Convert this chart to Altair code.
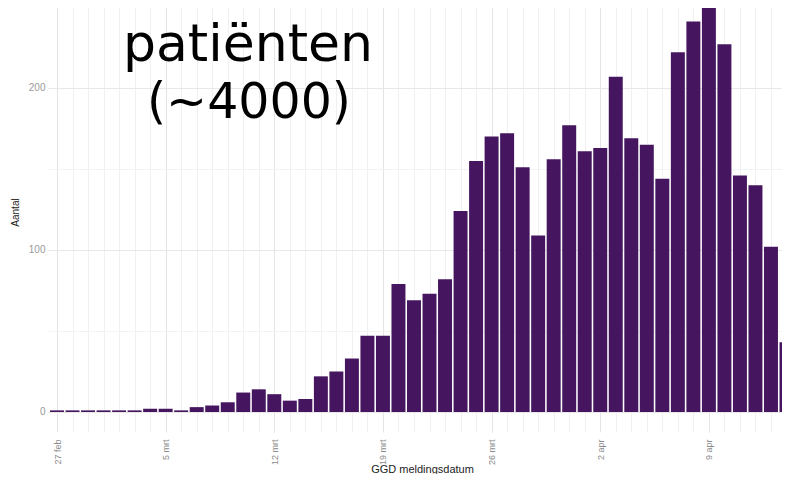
import altair as alt
import pandas as pd

# --- data ---
dates = [d.strftime("%Y-%m-%d") for d in pd.date_range("2020-02-27", periods=48, freq="D")]
aantal = [1, 1, 1, 1, 1, 1, 2, 2, 1,
          3, 4, 6, 12, 14, 11, 7, 8,
          22, 25, 33, 47, 47, 79, 69, 73, 82,
          124, 155, 170, 172, 151, 109, 156, 177, 161, 163, 207, 169, 165, 144,
          222, 241, 256, 227, 146, 140, 102, 43]
tick_labels = ["27 feb", "5 mrt", "12 mrt", "19 mrt", "26 mrt", "2 apr", "9 apr"]
y_values = [0, 50, 100, 150, 200, 250]
overlay_line1 = "patiënten"
overlay_line2 = "(~4000)"

df = pd.DataFrame({"datum": dates, "dag": list(range(len(dates))), "aantal": aantal})

label_array = "[" + ",".join("'" + t + "'" for t in tick_labels) + "]"
x_label_expr = f"datum.value % 7 === 0 ? {label_array}[datum.value / 7] : ''"

bars = alt.Chart(df).transform_calculate(
    x0="datum.dag - 0.45", x1="datum.dag + 0.45"
).mark_bar(color="#45165F", clip=True).encode(
    x=alt.X("x0:Q",
            scale=alt.Scale(domain=[-0.58, 46.71], nice=False, zero=False),
            axis=alt.Axis(values=list(range(len(dates))), labelExpr=x_label_expr,
                          labelAngle=270, labelFontSize=9, labelColor="#8A8A8A",
                          labelFont="Liberation Sans", labelPadding=7,
                          ticks=False, tickSize=0, domain=False,
                          grid=True,
                          gridColor={"condition": {"test": "datum.value % 7 === 0", "value": "#E4E4E4"},
                                     "value": "#F0F0F0"},
                          gridWidth=1,
                          title="GGD meldingsdatum", titleFontSize=11, titleFontWeight="normal",
                          titleFont="Liberation Sans", titleColor="#222222",
                          titleX=374, titleY=40, titleBaseline="alphabetic", titleAlign="center")),
    x2="x1:Q",
    y=alt.Y("aantal:Q",
            scale=alt.Scale(domain=[-12.35, 254.3], nice=False, zero=False),
            axis=alt.Axis(values=y_values,
                          labelExpr="datum.value % 100 === 0 ? datum.label : ''",
                          labelFontSize=10, labelColor="#9A9A9A", labelFont="Liberation Sans",
                          labelPadding=3, ticks=False, tickSize=0, domain=False,
                          grid=True,
                          gridColor={"condition": {"test": "datum.value % 100 === 0", "value": "#E8E8E8"},
                                     "value": "#F3F3F3"},
                          title="Aantal", titleFontSize=10, titleFontWeight="normal",
                          titleFont="Liberation Sans", titleColor="#222222",
                          titleAngle=270, titleX=-33, titleY=212,
                          titleBaseline="middle", titleAlign="center")),
    y2=alt.datum(0),
)

t1 = alt.Chart(pd.DataFrame({"t": [overlay_line1]})).mark_text(
    font="DejaVu Sans", fontSize=52, align="center", baseline="alphabetic", color="#000000"
).encode(x=alt.value(200), y=alt.value(61), text="t:N")

t2 = alt.Chart(pd.DataFrame({"t": [overlay_line2]})).mark_text(
    font="DejaVu Sans", fontSize=49, align="center", baseline="alphabetic", color="#000000"
).encode(x=alt.value(201), y=alt.value(118), text="t:N")

chart = alt.layer(bars, t1, t2).properties(
    width=734, height=432,
    autosize=alt.AutoSizeParams(type="none"),
    padding={"left": 40, "top": -8, "right": 0, "bottom": 42},
).configure_view(stroke=None)

chart.save("out.html", embed_options={"renderer": "svg", "actions": False})
